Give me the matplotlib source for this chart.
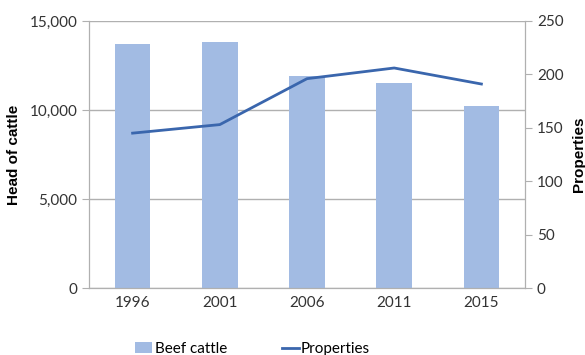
import matplotlib
matplotlib.use("Agg")
import matplotlib.pyplot as plt
import numpy as np

anos = ["1996", "2001", "2006", "2011", "2015"]
gado = [13700, 13800, 11900, 11500, 10250]
propriedades = [145, 153, 196, 206, 191]

cor_barra = "#a2bbe3"
cor_linha = "#3a66ad"
cinza = "#b0b0b0"

plt.rcParams["font.family"] = ["Lato", "DejaVu Sans"]

fig = plt.figure(figsize=(5.85, 3.55), dpi=100)
ax = fig.add_axes([89/585, 1-288/355, 436/585, 267/355])
ax2 = ax.twinx()

x = np.arange(len(anos))
ax.bar(x, gado, width=0.41, color=cor_barra, label="Beef cattle", zorder=2)
ax2.plot(x, propriedades, color=cor_linha, lw=2, label="Properties")

ax.set_xlim(-0.5, len(anos) - 0.5)
ax.set_ylim(0, 15000)
ax2.set_ylim(0, 250)
ax.set_yticks([0, 5000, 10000, 15000])
ax.set_yticklabels(["0", "5,000", "10,000", "15,000"])
ax2.set_yticks([0, 50, 100, 150, 200, 250])
ax.set_xticks(x)
ax.set_xticklabels(anos)

ax.grid(axis="y", color=cinza, lw=1, zorder=0)
ax.set_axisbelow(True)
for a in (ax, ax2):
    a.spines["top"].set_visible(False)
    for s in ("left", "right", "bottom"):
        a.spines[s].set_color(cinza)
ax.tick_params(axis="y", length=5, colors=cinza, labelcolor="#333333", labelsize=11)
ax2.tick_params(axis="y", length=5, color=cinza, labelsize=11, labelcolor="#333333")
ax.tick_params(axis="x", length=0, labelsize=11, labelcolor="#333333", pad=6)

ax.set_ylabel("Head of cattle", fontsize=11, fontweight="bold", family="Liberation Sans", labelpad=6)
ax2.set_ylabel("Properties", fontsize=11, fontweight="bold", family="Liberation Sans", labelpad=6)

h1, l1 = ax.get_legend_handles_labels()
h2, l2 = ax2.get_legend_handles_labels()
fig.legend(h1 + h2, l1 + l2, loc="center", bbox_to_anchor=(0.432, 0.017), ncol=2,
           frameon=False, fontsize=11, handlelength=1.1, handletextpad=0.15,
           columnspacing=3.6, borderaxespad=0)

fig.savefig("out.png", dpi=100)
